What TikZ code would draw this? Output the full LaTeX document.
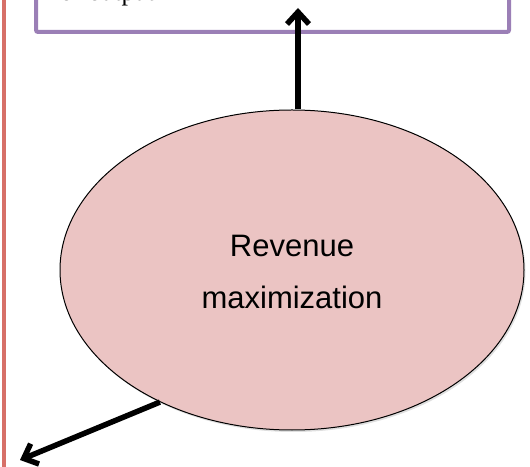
\documentclass[tikz,border=0pt]{standalone}
\usepackage{fontspec}
\setmainfont{Liberation Serif}
\newfontfamily\labelfont{Liberation Sans}
\usetikzlibrary{arrows.meta,shadows,shapes.geometric}
\begin{document}
\begin{tikzpicture}[x=1pt,y=1pt,
  goalbox/.style={draw=black, line width=1pt, fill=ellfill, ellipse,
    minimum width=464pt, minimum height=320pt, inner sep=0pt,
    drop shadow={shadow xshift=1.5pt, shadow yshift=-2pt, opacity=0.25}},
  flow/.style={line width=5.5pt, -{Straight Barb[length=12pt,width=22pt,line width=5.5pt]}},
  frame/.style={draw=framepurple, line width=4pt, rounded corners=2pt}]
\definecolor{ellfill}{RGB}{235,196,195}
\definecolor{framepurple}{RGB}{155,127,182}
\definecolor{sidered}{RGB}{215,112,104}
\useasboundingbox (0,0) rectangle (530,466);
\clip (0,0) rectangle (530,466);
% outer red side rule
\draw[sidered, line width=4pt] (4,-5) -- (4,475);
% upper output box and its text
\draw[frame] (36,520) -- (36,434) -- (509,434) -- (509,520);
\node[anchor=base west, font=\fontsize{26}{30}\selectfont, inner sep=0pt] (outtext) at (60,465.5) {of output};
\coordinate (boxbottom) at (298,458);
% central goal
\node[goalbox] (goal) at (292,196) {};
\node[font=\labelfont\fontsize{31}{52}\selectfont, align=center] (goaltext) at (292,194) {Revenue\\maximization};
% connectors
\draw[flow] (goal.north -| boxbottom) -- (boxbottom);
\coordinate (leftend) at (20,6);
\draw[flow] (goal.-135) -- (leftend);
\end{tikzpicture}
\end{document}
